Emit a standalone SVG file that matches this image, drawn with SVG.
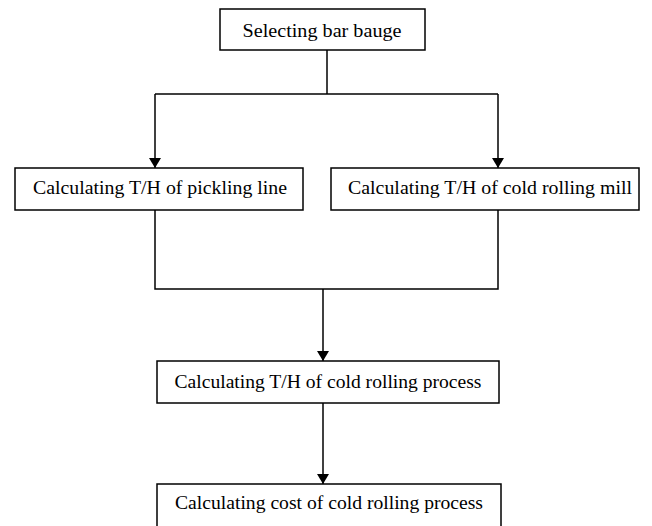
<svg xmlns="http://www.w3.org/2000/svg" width="652" height="526" viewBox="0 0 652 526">
<defs>
<style>
.box{fill:#fff;stroke:#000;stroke-width:1.5}
.lbl{font-family:"Liberation Serif","Times New Roman",serif;font-size:18px;fill:#000;text-anchor:middle}
.ln{fill:none;stroke:#000;stroke-width:1.5}
</style>
<marker id="ah" viewBox="0 0 10 12" refX="10" refY="6" markerWidth="10" markerHeight="12" markerUnits="userSpaceOnUse" orient="auto">
<path d="M0,0 L10,6 L0,12 Z" fill="#000"/>
</marker>
</defs>
<rect width="652" height="526" fill="#fff"/>
<g id="connectors">
<path class="ln" d="M327,50 V94"/>
<path class="ln" d="M155,94 H498"/>
<path class="ln" d="M155,94 V168" marker-end="url(#ah)"/>
<path class="ln" d="M498,94 V168" marker-end="url(#ah)"/>
<path class="ln" d="M155,210 V289 H498 V210"/>
<path class="ln" d="M323,289 V361" marker-end="url(#ah)"/>
<path class="ln" d="M323,403 V484" marker-end="url(#ah)"/>
</g>
<g id="n1">
<rect class="box" x="220" y="9" width="205" height="41"/>
<text class="lbl" x="322" y="37" textLength="159" lengthAdjust="spacingAndGlyphs">Selecting bar bauge</text>
</g>
<g id="n2">
<rect class="box" x="15" y="168" width="288" height="42"/>
<text class="lbl" x="160" y="194" textLength="254" lengthAdjust="spacingAndGlyphs">Calculating T/H of pickling line</text>
</g>
<g id="n3">
<rect class="box" x="331" y="168" width="308" height="42"/>
<text class="lbl" x="490" y="194" textLength="284" lengthAdjust="spacingAndGlyphs">Calculating T/H of cold rolling mill</text>
</g>
<g id="n4">
<rect class="box" x="157" y="361" width="342" height="42"/>
<text class="lbl" x="328" y="388" textLength="307" lengthAdjust="spacingAndGlyphs">Calculating T/H of cold rolling process</text>
</g>
<g id="n5">
<rect class="box" x="157" y="484" width="344" height="46"/>
<text class="lbl" x="329" y="509" textLength="308" lengthAdjust="spacingAndGlyphs">Calculating cost of cold rolling process</text>
</g>
</svg>
